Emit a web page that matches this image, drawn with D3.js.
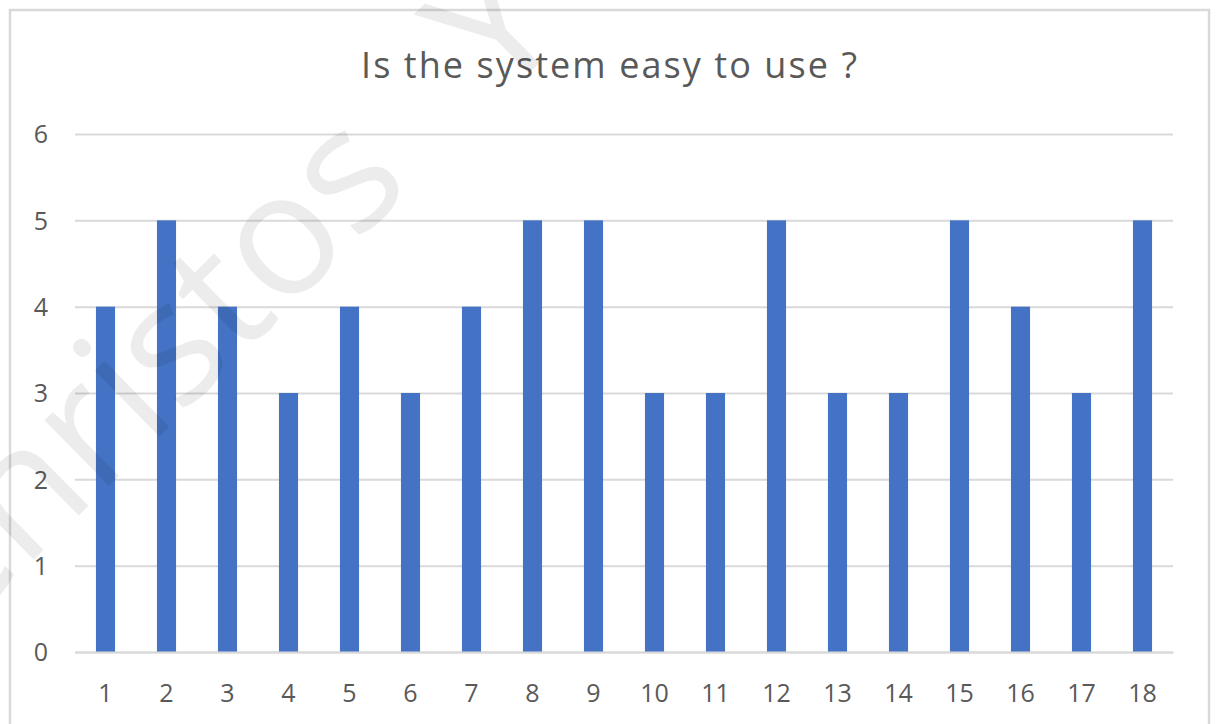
<!DOCTYPE html>
<html>
<head>
<meta charset="utf-8">
<script src="https://cdn.jsdelivr.net/npm/d3@7"></script>
<style>
  html, body { margin: 0; padding: 0; background: #fff; }
  svg { display: block; }
</style>
</head>
<body>
<svg id="chart" width="1218" height="724"></svg>
<script>
// Responses per participant
const participants = ["1","2","3","4","5","6","7","8","9","10","11","12","13","14","15","16","17","18"];
const scores = [4,5,4,3,4,3,4,5,5,3,3,5,3,3,5,4,3,5];
const yTicks = [0,1,2,3,4,5,6];
const title = "Is the system easy to use ?";

const W = 1218, H = 724;
const plot = { left: 75, right: 1173, top: 134, bottom: 652 };
const font = "'Open Sans', 'Liberation Sans', sans-serif";

const svg = d3.select("#chart");

// Frame
svg.append("rect")
  .attr("x", 10).attr("y", 10)
  .attr("width", 1199).attr("height", 730)
  .attr("fill", "#fff")
  .attr("stroke", "#d9d9d9").attr("stroke-width", 2.5);

const x = d3.scaleBand()
  .domain(participants)
  .range([plot.left, plot.right])
  .paddingInner(0.687)
  .paddingOuter(0.3435);

const y = d3.scaleLinear()
  .domain([0, 6])
  .range([plot.bottom, plot.top]);

// Horizontal gridlines and value labels
const yAxis = d3.axisLeft(y)
  .tickValues(yTicks)
  .tickSize(-(plot.right - plot.left))
  .tickFormat(d3.format("d"));

const gy = svg.append("g")
  .attr("transform", `translate(${plot.left},0)`)
  .call(yAxis);
gy.select(".domain").remove();
gy.selectAll(".tick line")
  .attr("stroke", "#d9d9d9").attr("stroke-width", 2);
gy.selectAll(".tick text")
  .attr("fill", "#595959")
  .attr("font-family", font)
  .attr("font-size", 25)
  .attr("text-anchor", "middle")
  .attr("dy", "0.35em")
  .attr("x", -34);

// Bars
svg.append("g").selectAll("rect")
  .data(scores)
  .join("rect")
  .attr("x", (d, i) => x(participants[i]))
  .attr("y", d => y(d))
  .attr("width", x.bandwidth())
  .attr("height", d => y(0) - y(d))
  .attr("fill", "#4472c4");

// Category axis
const xAxis = d3.axisBottom(x).tickSize(0).tickPadding(0);
const gx = svg.append("g")
  .attr("transform", `translate(0,${plot.bottom})`)
  .call(xAxis);
gx.select(".domain")
  .attr("stroke", "#d9d9d9").attr("stroke-width", 2);
gx.selectAll(".tick text")
  .attr("fill", "#595959")
  .attr("font-family", font)
  .attr("font-size", 25)
  .attr("dy", null)
  .attr("y", 50);

// Title
svg.append("text")
  .attr("x", 609).attr("y", 78)
  .attr("text-anchor", "middle")
  .attr("fill", "#595959")
  .attr("font-family", font)
  .attr("font-size", 36)
  .attr("textLength", 496)
  .attr("lengthAdjust", "spacing")
  .text(title);

// Author watermark
const wm = svg.append("text")
  .attr("transform", "translate(-54,646) rotate(-44.5)")
  .attr("fill", "#000")
  .attr("fill-opacity", 0.075)
  .attr("font-family", font)
  .attr("font-size", 172);
wm.append("tspan").text("Christos");
wm.append("tspan").attr("dx", 120).text("Y");
</script>
</body>
</html>
